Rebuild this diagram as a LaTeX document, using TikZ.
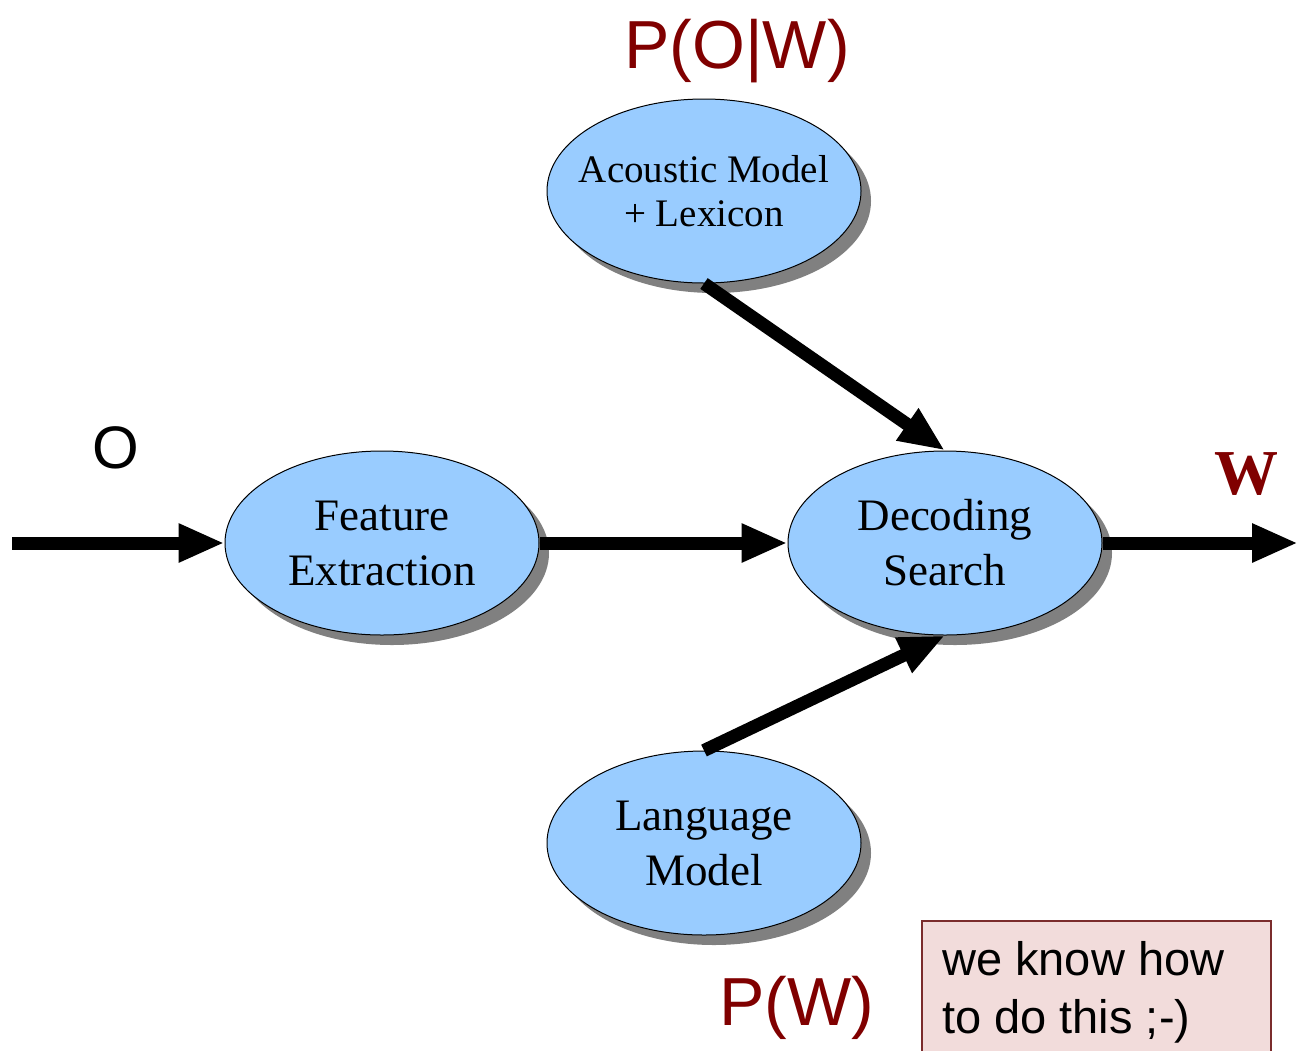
\documentclass[tikz,border=0pt]{standalone}
\usepackage{fontspec}
\setmainfont{Liberation Serif}
\setsansfont{Liberation Sans}
\usetikzlibrary{shapes.geometric,arrows.meta,shadows}
\definecolor{ellfill}{HTML}{99CCFF}
\definecolor{darkred}{HTML}{800000}
\definecolor{notefill}{HTML}{F2DCDB}
\definecolor{noteline}{HTML}{7B2C2C}
\begin{document}
\begin{tikzpicture}[x=1pt,y=-1pt,
  blob/.style={ellipse, draw=black, line width=1pt, fill=ellfill,
    minimum width=314pt, minimum height=184pt, inner sep=0pt, align=center,
    font=\fontsize{45}{55}\selectfont,
    drop shadow={shadow xshift=10pt, shadow yshift=-10pt, fill=black!50, opacity=1}},
  flow/.style={line width=13pt, -{Triangle[length=46pt,width=36pt]}},
  lab/.style={font=\sffamily\fontsize{68}{68}\selectfont, text=darkred, inner sep=0pt, anchor=base},
  notetext/.style={font=\sffamily\fontsize{47}{58}\selectfont, inner sep=0pt, anchor=base west}
]
\useasboundingbox (0,0) rectangle (1298,1050);
\fill[white] (0,0) rectangle (1298,1050);

\node[blob, inner sep=-20pt, font=\fontsize{39}{44}\selectfont] (am) at (704,191) {Acoustic Model\\+ Lexicon};
\node[blob] (fe) at (382,543) {Feature\\Extraction};
\node[blob] (ds) at (945,543) {Decoding\\Search};
\node[blob] (lm) at (704,843) {Language\\Model};

\coordinate (in) at (12,543);
\coordinate (out) at (1298,543);

\draw[flow] (in) -- (fe.west);
\draw[flow] (fe.east) -- (ds.west);
\draw[flow] (ds.east) -- (out);
\draw[flow] (am.south) -- (ds.north);
\draw[flow] (lm.north) -- (ds.south);

\node[lab] (pow) at (737,68) {P(O|W)};
\node[lab] (pw) at (797,1025) {P(W)};
\node[font=\sffamily\fontsize{60}{60}\selectfont, inner sep=0pt, anchor=base] (o) at (116,468) {O};
\node[font=\bfseries\fontsize{64}{64}\selectfont, text=darkred, inner sep=0pt, anchor=base] (w) at (1246,494) {W};

\node[draw=noteline, fill=notefill, line width=1.5pt, minimum width=349pt, minimum height=160pt, anchor=north west, inner sep=0pt] (note) at (921,920) {};
\node[notetext] (note1) at (942,975) {we know how};
\node[notetext] (note2) at (942,1033) {to do this ;-)};
\end{tikzpicture}
\end{document}
